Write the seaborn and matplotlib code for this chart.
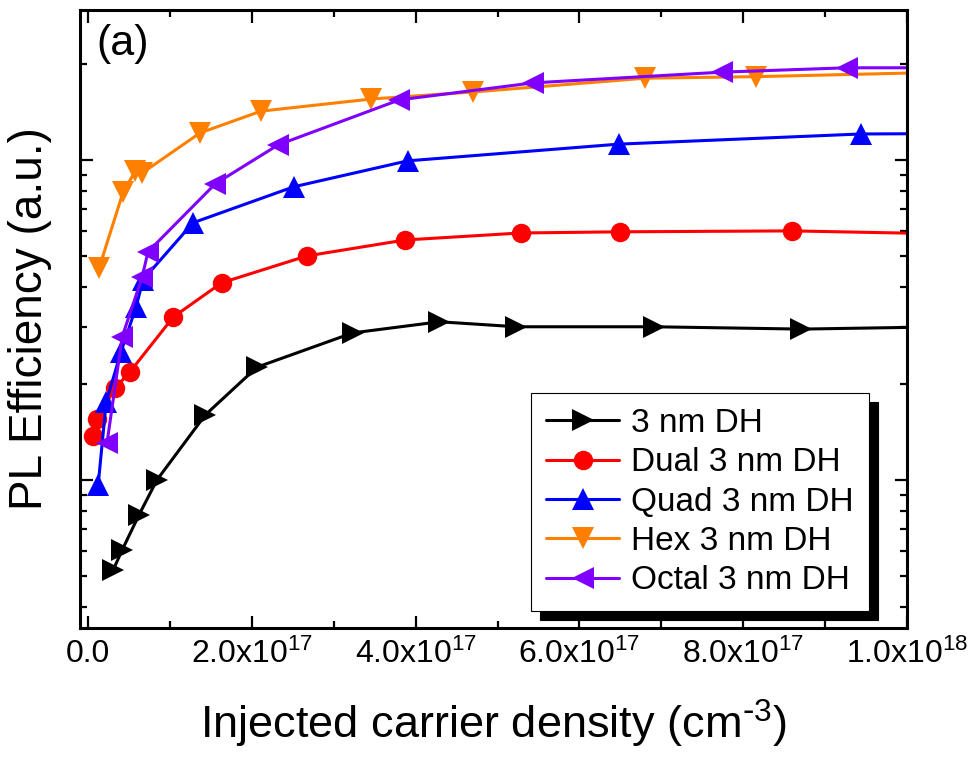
import matplotlib
matplotlib.use("Agg")
import matplotlib.pyplot as plt
import numpy as np
import pandas as pd
import seaborn as sns
from matplotlib.ticker import MultipleLocator, FuncFormatter, NullFormatter, LogLocator

sns.set_style("ticks")
plt.rcParams["font.family"] = ["Liberation Sans", "DejaVu Sans"]
plt.rcParams["mathtext.default"] = "regular"
plt.rcParams["axes.unicode_minus"] = False
for key in ("text.color", "axes.labelcolor", "xtick.color", "ytick.color"):
    plt.rcParams[key] = "black"

# Injected carrier density (cm^-3) and PL efficiency (a.u.) for each structure
dh3_x = [3.05e16, 4.15e16, 6.2e16, 8.4e16, 1.43e17, 2.06e17, 3.23e17, 4.29e17, 5.23e17, 6.91e17, 8.71e17, 1.05e18]
dh3_y = [0.523, 0.604, 0.777, 1.0, 1.596, 2.25, 2.88, 3.12, 3.01, 3.01, 2.96, 3.01]

dual_x = [6.1e15, 1.1e16, 3.3e16, 5.1e16, 1.04e17, 1.63e17, 2.67e17, 3.87e17, 5.28e17, 6.49e17, 8.6e17, 1.05e18]
dual_y = [1.373, 1.551, 1.939, 2.175, 3.23, 4.13, 5.01, 5.62, 5.91, 5.96, 6.00, 5.87]

quad_x = [1.22e16, 2.2e16, 4.0e16, 5.85e16, 6.7e16, 1.28e17, 2.51e17, 3.90e17, 6.48e17, 9.44e17, 1.1e18]
quad_y = [0.965, 1.753, 2.51, 3.47, 4.22, 6.36, 8.24, 9.93, 11.2, 12.05, 12.1]

hex_x = [1.34e16, 4.27e16, 5.73e16, 6.59e16, 1.366e17, 2.11e17, 3.46e17, 4.70e17, 6.80e17, 8.16e17, 1.05e18]
hex_y = [4.60, 7.94, 9.2, 9.1, 12.14, 14.2, 15.5, 16.3, 18.0, 18.2, 18.8]

octal_x = [2.3e16, 4.15e16, 6.6e16, 7.3e16, 1.55e17, 2.32e17, 3.80e17, 5.43e17, 7.74e17, 9.27e17, 1.1e18]
octal_y = [1.305, 2.80, 4.31, 5.16, 8.41, 11.14, 15.4, 17.4, 18.8, 19.4, 19.4]

series_names = ["3 nm DH", "Dual 3 nm DH", "Quad 3 nm DH", "Hex 3 nm DH", "Octal 3 nm DH"]
series_x = [dh3_x, dual_x, quad_x, hex_x, octal_x]
series_y = [dh3_y, dual_y, quad_y, hex_y, octal_y]
series_colors = ["#000000", "#FF0000", "#0000FF", "#FF8000", "#8000FF"]
series_markers = [">", "o", "^", "v", "<"]
series_msize = [15.5, 14, 15.5, 15.5, 15.5]

fig = plt.figure(figsize=(9.72, 7.74), dpi=100)
ax = fig.add_axes([80 / 972, 1 - 628 / 774, 827 / 972, 618 / 774])

for name, xs, ys, c, m, ms in zip(series_names, series_x, series_y,
                                  series_colors, series_markers, series_msize):
    df = pd.DataFrame({"density": xs, "eff": ys})
    sns.lineplot(data=df, x="density", y="eff", ax=ax, color=c, marker=m,
                 markersize=ms, markeredgewidth=0, linewidth=2.2,
                 sort=False, label=name)

ax.set_yscale("log")
ax.set_ylim(0.3446, 29.4)
ax.set_xlim(-1e16, 1e18)

ax.xaxis.set_major_locator(MultipleLocator(2e17))
ax.xaxis.set_minor_locator(MultipleLocator(1e17))


def sci_label(v, pos):
    if abs(v) < 1:
        return "0.0"
    exp = int(np.floor(np.log10(abs(v)) + 1e-9))
    mant = v / 10 ** exp
    return f"{mant:.1f}x10$^{{{exp}}}$"


ax.xaxis.set_major_formatter(FuncFormatter(sci_label))
ax.yaxis.set_major_locator(LogLocator(base=10))
ax.yaxis.set_minor_locator(LogLocator(base=10, subs=np.arange(2, 10)))
ax.yaxis.set_major_formatter(NullFormatter())
ax.yaxis.set_minor_formatter(NullFormatter())

ax.tick_params(which="both", direction="in", top=True, right=True,
               width=1.6, color="black", labelsize=23, pad=8)
ax.tick_params(which="major", length=9)
ax.tick_params(which="minor", length=5)
for sp in ax.spines.values():
    sp.set_linewidth(2.2)
    sp.set_color("black")

ax.set_xlabel(r"Injected carrier density (cm$^{\text{-}3}$)", fontsize=32.5, labelpad=20)
ax.set_ylabel("PL Efficiency (a.u.)", fontsize=33)
ax.yaxis.set_label_coords(-0.034, 0.5)

ax.text(0.02, 0.978, "(a)", transform=ax.transAxes, fontsize=31,
        ha="left", va="top")

leg = ax.legend(loc="upper left", bbox_to_anchor=(0.5453, 0.3803),
                borderaxespad=0, frameon=True, fancybox=False,
                edgecolor="black", framealpha=1, fontsize=24,
                handlelength=2.2, handletextpad=0.35, labelspacing=0.25,
                borderpad=0.45,
                shadow={"ox": 6.5, "oy": -6.5, "color": "black", "alpha": 1})
leg.get_frame().set_linewidth(0.8)

fig.savefig("out.png", dpi=100)
